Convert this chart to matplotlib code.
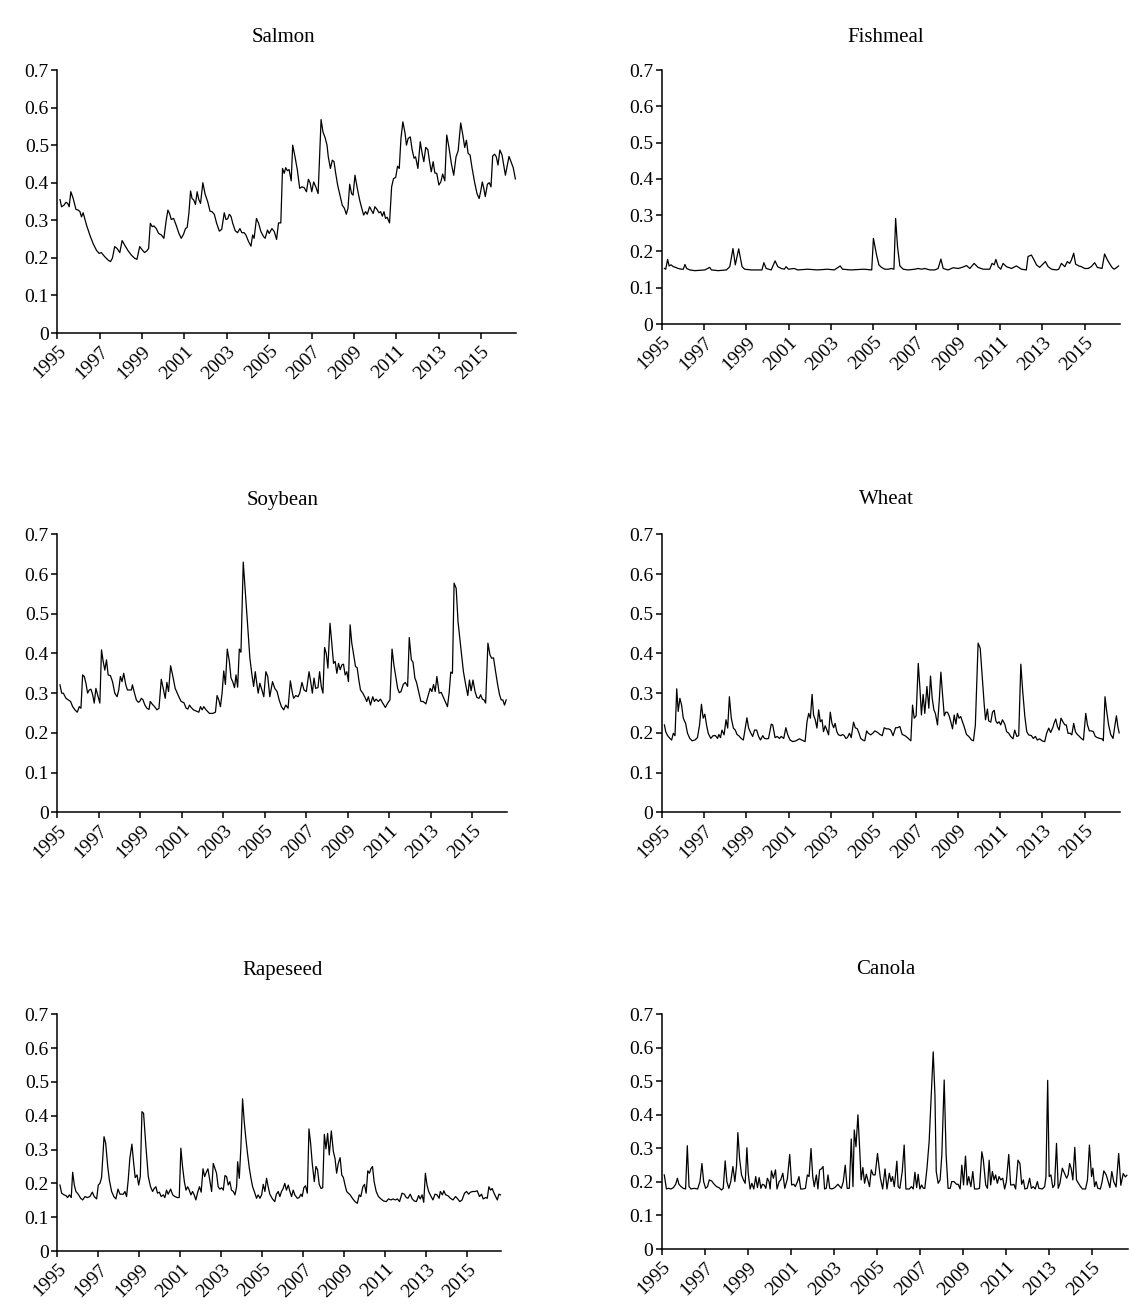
import matplotlib
matplotlib.use("Agg")
import matplotlib.pyplot as plt

plt.rcParams['font.family'] = ['Liberation Serif', 'DejaVu Serif']

# ---------------- data (decimal year, value) ----------------
salmon_year = [1995.13,1995.20,1995.31,1995.41,1995.49,1995.56,1995.64,1995.75,1995.88,1995.99,
 1996.07,1996.14,1996.22,1996.38,1996.54,1996.69,1996.85,1996.97,1997.08,1997.24,
 1997.40,1997.51,1997.60,1997.71,1997.82,1997.95,1998.06,1998.18,1998.34,1998.50,
 1998.65,1998.76,1998.89,1999.01,1999.12,1999.23,1999.31,1999.39,1999.48,1999.56,
 1999.67,1999.78,1999.91,2000.03,2000.14,2000.22,2000.30,2000.38,2000.49,2000.61,
 2000.74,2000.85,2000.96,2001.05,2001.13,2001.21,2001.29,2001.36,2001.44,2001.52,
 2001.60,2001.68,2001.76,2001.87,2001.97,2002.10,2002.21,2002.30,2002.41,2002.52,
 2002.65,2002.76,2002.88,2002.96,2003.04,2003.12,2003.20,2003.28,2003.40,2003.51,
 2003.62,2003.71,2003.82,2003.90,2004.03,2004.14,2004.22,2004.29,2004.40,2004.50,
 2004.61,2004.72,2004.81,2004.92,
 2005.00,2005.13,2005.24,2005.35,2005.44,2005.55,2005.63,2005.71,2005.78,2005.86,
 2005.94,2006.04,2006.11,2006.22,2006.33,2006.44,2006.54,2006.65,2006.76,2006.85,
 2006.93,2007.01,2007.10,2007.20,2007.31,2007.45,2007.54,2007.64,2007.73,2007.79,
 2007.89,2007.98,2008.06,2008.14,2008.23,2008.34,2008.45,2008.55,2008.64,2008.72,
 2008.80,2008.89,2008.96,2009.05,2009.16,2009.27,2009.36,2009.46,2009.55,2009.63,
 2009.74,2009.84,2009.91,2009.99,2010.09,2010.18,2010.26,2010.34,2010.42,2010.49,
 2010.57,2010.68,2010.78,2010.87,2010.97,2011.06,2011.14,2011.22,2011.31,2011.41,
 2011.48,2011.56,2011.66,2011.75,2011.84,2011.91,2012.02,2012.13,2012.22,2012.30,
 2012.39,2012.49,2012.57,2012.65,2012.74,2012.82,2012.91,2013.01,2013.10,2013.19,
 2013.29,2013.38,2013.48,2013.60,2013.71,2013.82,2013.92,2014.04,2014.14,2014.23,
 2014.31,2014.39,2014.48,2014.58,2014.70,2014.81,2014.91,2014.98,2015.06,2015.13,
 2015.20,2015.30,2015.39,2015.47,2015.55,2015.64,2015.72,2015.80,2015.89,2015.99,
 2016.08,2016.15,2016.22,2016.32,2016.42,2016.52,2016.62]
salmon_val = [0.355,0.336,0.34,0.348,0.345,0.336,0.376,0.358,0.329,0.327,
 0.323,0.309,0.32,0.287,0.26,0.238,0.22,0.212,0.214,0.203,
 0.194,0.19,0.199,0.23,0.225,0.214,0.246,0.234,0.219,0.207,
 0.199,0.196,0.23,0.221,0.214,0.219,0.225,0.292,0.283,0.285,
 0.278,0.265,0.261,0.252,0.30,0.327,0.318,0.302,0.305,0.287,
 0.265,0.252,0.263,0.278,0.281,0.318,0.378,0.358,0.354,0.342,
 0.376,0.355,0.345,0.40,0.371,0.349,0.324,0.323,0.316,0.292,
 0.271,0.276,0.32,0.302,0.304,0.316,0.31,0.292,0.272,0.267,
 0.278,0.267,0.267,0.261,0.243,0.231,0.261,0.252,0.305,0.292,
 0.27,0.258,0.252,0.274,
 0.265,0.278,0.27,0.249,0.293,0.293,0.438,0.425,0.44,0.432,
 0.435,0.405,0.50,0.469,0.434,0.385,0.389,0.387,0.376,0.409,
 0.40,0.376,0.402,0.389,0.371,0.568,0.535,0.52,0.50,0.469,
 0.438,0.46,0.456,0.425,0.394,0.367,0.34,0.332,0.316,0.332,
 0.396,0.371,0.367,0.42,0.385,0.354,0.334,0.314,0.323,0.316,
 0.336,0.325,0.318,0.336,0.329,0.32,0.323,0.311,0.323,0.305,
 0.308,0.293,0.389,0.411,0.414,0.444,0.438,0.518,0.562,0.533,
 0.50,0.518,0.522,0.487,0.465,0.469,0.438,0.509,0.478,0.456,
 0.494,0.488,0.456,0.429,0.456,0.426,0.425,0.394,0.402,0.423,
 0.405,0.527,0.496,0.451,0.42,0.469,0.485,0.559,0.527,0.494,
 0.513,0.478,0.474,0.438,0.40,0.371,0.358,0.376,0.402,0.385,
 0.363,0.396,0.40,0.389,0.471,0.476,0.469,0.447,0.487,0.474,
 0.444,0.42,0.44,0.47,0.455,0.44,0.41]

fishmeal_year = [1995.13,1995.19,1995.28,1995.35,1995.44,1995.55,1995.66,1995.78,1995.94,1996.02,
 1996.10,1996.18,1996.33,1996.57,1997.04,1997.27,1997.35,1997.67,1998.06,1998.22,
 1998.37,1998.48,1998.64,1998.80,1998.92,1999.24,1999.55,1999.74,1999.83,1999.94,
 2000.18,2000.36,2000.49,2000.65,2000.80,2000.88,2000.99,2001.27,2001.43,2001.90,
 2002.37,2002.84,2003.16,2003.44,2003.55,2003.94,2004.57,2004.93,2005.01,
 2005.16,2005.27,2005.39,2005.55,2005.71,2005.87,2005.98,2006.06,2006.15,2006.26,
 2006.42,2006.65,2006.97,2007.13,2007.28,2007.44,2007.68,2007.91,2008.07,2008.20,
 2008.31,2008.54,2008.78,2009.02,2009.20,2009.41,2009.57,2009.77,2009.96,2010.20,
 2010.51,2010.62,2010.72,2010.80,2010.91,2011.03,2011.14,2011.30,2011.54,2011.77,
 2012.01,2012.24,2012.32,2012.48,2012.61,2012.72,2012.87,2013.14,2013.27,2013.43,
 2013.66,2013.77,2013.90,2014.06,2014.18,2014.29,2014.37,2014.48,2014.57,2014.72,
 2014.84,2015.00,2015.16,2015.31,2015.47,2015.60,2015.82,2015.94,2016.06,2016.17,
 2016.29,2016.39,2016.50,2016.60]
fishmeal_val = [0.153,0.151,0.178,0.16,0.163,0.158,0.156,0.153,0.151,0.151,
 0.164,0.153,0.149,0.147,0.149,0.156,0.149,0.147,0.149,0.158,
 0.208,0.163,0.207,0.158,0.151,0.149,0.149,0.149,0.169,0.153,
 0.149,0.174,0.158,0.153,0.151,0.158,0.151,0.153,0.149,0.151,
 0.149,0.151,0.149,0.16,0.151,0.149,0.151,0.149,0.236,
 0.19,0.163,0.156,0.151,0.151,0.153,0.151,0.291,0.213,0.16,
 0.151,0.149,0.151,0.153,0.151,0.153,0.149,0.149,0.153,0.179,
 0.153,0.149,0.155,0.153,0.156,0.161,0.153,0.167,0.156,0.151,
 0.151,0.167,0.163,0.178,0.158,0.151,0.167,0.158,0.153,0.16,
 0.151,0.149,0.186,0.19,0.176,0.163,0.156,0.172,0.158,0.151,
 0.149,0.151,0.167,0.158,0.172,0.167,0.176,0.195,0.165,0.16,
 0.158,0.153,0.153,0.158,0.169,0.156,0.153,0.193,0.178,0.167,
 0.156,0.151,0.155,0.16]

soybean_year = [1995.13,1995.21,1995.29,1995.42,1995.53,1995.64,1995.74,1995.85,1995.96,1996.06,
 1996.14,1996.22,1996.30,1996.38,1996.46,1996.54,1996.62,1996.70,1996.78,1996.86,
 1996.94,1997.05,1997.13,1997.21,1997.29,1997.37,1997.45,1997.56,1997.66,1997.77,
 1997.88,1997.96,1998.04,1998.12,1998.20,1998.30,1998.38,1998.49,1998.57,1998.62,
 1998.70,1998.81,1998.90,1998.97,1999.05,1999.13,1999.22,1999.32,1999.42,1999.48,
 1999.58,1999.69,1999.80,1999.90,2000.01,2000.12,2000.20,2000.28,2000.36,2000.46,
 2000.57,2000.68,2000.78,2000.89,2000.97,2001.10,2001.21,2001.29,2001.37,2001.45,
 2001.56,2001.69,2001.82,2001.90,2001.98,2002.06,2002.17,2002.33,2002.49,2002.62,
 2002.70,2002.78,2002.86,2002.94,2003.02,2003.10,2003.19,2003.29,2003.37,2003.45,
 2003.54,2003.61,2003.69,2003.77,2003.85,2003.96,2004.06,2004.17,2004.28,2004.38,
 2004.46,2004.54,2004.60,2004.68,2004.76,2004.86,2004.95,2005.05,2005.14,
 2005.24,2005.37,2005.48,2005.59,2005.69,2005.80,2005.91,2006.01,2006.12,2006.23,
 2006.33,2006.39,2006.49,2006.60,2006.68,2006.79,2006.89,2007.00,2007.13,2007.21,
 2007.29,2007.37,2007.45,2007.56,2007.64,2007.72,2007.80,2007.88,2007.96,2008.04,
 2008.14,2008.22,2008.31,2008.39,2008.47,2008.55,2008.63,2008.71,2008.79,2008.87,
 2008.95,2009.03,2009.11,2009.19,2009.27,2009.37,2009.45,2009.53,2009.61,2009.72,
 2009.83,2009.91,2009.99,2010.09,2010.20,2010.28,2010.36,2010.47,2010.57,2010.68,
 2010.81,2010.92,2011.03,2011.13,2011.22,2011.32,2011.40,2011.48,2011.56,2011.67,
 2011.77,2011.88,2011.96,2012.06,2012.14,2012.23,2012.31,2012.41,2012.52,2012.63,
 2012.76,2012.87,2012.97,2013.05,2013.13,2013.21,2013.29,2013.40,2013.50,2013.59,
 2013.69,2013.80,2013.88,2013.96,2014.04,2014.12,2014.22,2014.31,2014.41,2014.49,
 2014.57,2014.68,2014.78,2014.86,2014.94,2015.03,2015.13,2015.22,2015.32,2015.40,
 2015.48,2015.56,2015.64,2015.75,2015.85,2015.93,2016.02,2016.12,2016.22,2016.31,
 2016.39,2016.47,2016.55,2016.63]
soybean_val = [0.321,0.30,0.30,0.287,0.283,0.279,0.266,0.258,0.252,0.266,
 0.262,0.346,0.342,0.325,0.30,0.308,0.31,0.297,0.275,0.312,
 0.296,0.275,0.409,0.38,0.358,0.384,0.346,0.344,0.329,0.30,
 0.291,0.308,0.342,0.329,0.35,0.321,0.308,0.308,0.308,0.321,
 0.304,0.283,0.277,0.279,0.287,0.283,0.27,0.262,0.259,0.279,
 0.272,0.266,0.258,0.262,0.335,0.308,0.287,0.327,0.304,0.369,
 0.342,0.312,0.30,0.287,0.279,0.276,0.262,0.26,0.27,0.264,
 0.258,0.255,0.252,0.266,0.258,0.266,0.258,0.249,0.249,0.252,
 0.294,0.283,0.266,0.30,0.356,0.322,0.411,0.38,0.338,0.329,
 0.314,0.346,0.315,0.411,0.403,0.63,0.556,0.472,0.388,0.346,
 0.317,0.354,0.329,0.30,0.325,0.308,0.291,0.354,0.342,
 0.291,0.329,0.312,0.304,0.283,0.266,0.258,0.27,0.262,0.331,
 0.30,0.287,0.294,0.291,0.30,0.327,0.308,0.304,0.354,0.329,
 0.30,0.338,0.312,0.314,0.354,0.317,0.30,0.415,0.40,0.363,
 0.476,0.43,0.375,0.38,0.35,0.375,0.359,0.371,0.373,0.346,
 0.354,0.329,0.472,0.426,0.40,0.367,0.364,0.333,0.308,0.30,
 0.289,0.279,0.291,0.27,0.291,0.279,0.285,0.279,0.285,0.275,
 0.264,0.275,0.283,0.411,0.371,0.338,0.312,0.301,0.304,0.322,
 0.327,0.317,0.44,0.384,0.378,0.338,0.327,0.304,0.279,0.279,
 0.273,0.294,0.312,0.304,0.322,0.304,0.342,0.30,0.302,0.291,
 0.279,0.266,0.30,0.353,0.35,0.577,0.564,0.48,0.43,0.392,
 0.354,0.321,0.294,0.333,0.306,0.333,0.304,0.289,0.287,0.296,
 0.285,0.283,0.275,0.426,0.396,0.388,0.389,0.354,0.321,0.296,
 0.283,0.283,0.27,0.283]

wheat_year = [1995.13,1995.19,1995.28,1995.39,1995.47,1995.55,1995.63,1995.71,1995.78,1995.86,
 1995.94,1996.02,1996.13,1996.22,1996.33,1996.44,1996.57,1996.69,1996.79,1996.88,
 1996.96,1997.04,1997.12,1997.20,1997.32,1997.43,1997.54,1997.64,1997.70,1997.78,
 1997.85,1997.95,1998.04,1998.12,1998.20,1998.29,1998.39,1998.48,1998.56,1998.64,
 1998.76,1998.86,1998.95,1999.03,1999.11,1999.20,1999.30,1999.39,1999.49,1999.58,
 1999.67,1999.78,1999.86,1999.96,2000.05,2000.18,2000.25,2000.36,2000.46,2000.57,
 2000.65,2000.77,2000.87,2000.96,2001.07,2001.20,2001.35,2001.51,2001.62,2001.78,
 2001.87,2001.95,2002.03,2002.11,2002.18,2002.26,2002.34,2002.42,2002.50,2002.58,
 2002.65,2002.73,2002.81,2002.89,2002.97,2003.05,2003.13,2003.20,2003.28,2003.36,
 2003.47,2003.55,2003.63,2003.71,2003.78,2003.88,2003.96,2004.07,2004.15,2004.25,
 2004.33,2004.41,2004.51,2004.60,2004.69,2004.77,2004.88,2004.98,
 2005.08,2005.21,2005.32,2005.43,2005.52,2005.63,2005.74,2005.83,2005.94,2006.06,
 2006.15,2006.26,2006.37,2006.50,2006.62,2006.78,2006.86,2006.94,2007.03,2007.13,
 2007.21,2007.28,2007.36,2007.44,2007.54,2007.63,2007.71,2007.79,2007.87,2007.94,
 2008.04,2008.12,2008.20,2008.28,2008.36,2008.43,2008.51,2008.59,2008.67,2008.75,
 2008.83,2008.91,2008.98,2009.06,2009.14,2009.22,2009.30,2009.41,2009.52,2009.65,
 2009.74,2009.83,2009.96,2010.06,2010.15,2010.25,2010.31,2010.40,2010.46,2010.56,
 2010.64,2010.72,2010.80,2010.87,2010.95,2011.03,2011.11,2011.22,2011.31,2011.41,
 2011.50,2011.61,2011.69,2011.79,2011.88,2011.98,2012.07,2012.17,2012.26,2012.35,
 2012.48,2012.57,2012.67,2012.76,2012.87,2012.98,2013.11,2013.20,2013.30,2013.39,
 2013.49,2013.55,2013.63,2013.71,2013.79,2013.88,2013.98,2014.06,2014.13,2014.21,
 2014.31,2014.39,2014.48,2014.56,2014.65,2014.75,2014.84,2014.94,2015.05,2015.13,
 2015.22,2015.32,2015.41,2015.50,2015.60,2015.71,2015.82,2015.88,2015.96,2016.04,
 2016.13,2016.23,2016.34,2016.42,2016.50,2016.57,2016.63]
wheat_val = [0.22,0.203,0.193,0.186,0.182,0.199,0.193,0.311,0.254,0.287,
 0.27,0.237,0.224,0.199,0.186,0.18,0.182,0.188,0.22,0.272,
 0.237,0.247,0.22,0.199,0.186,0.193,0.193,0.186,0.196,0.188,
 0.207,0.195,0.233,0.212,0.291,0.237,0.212,0.207,0.196,0.193,
 0.186,0.182,0.212,0.238,0.212,0.201,0.191,0.207,0.207,0.191,
 0.182,0.193,0.186,0.185,0.186,0.222,0.22,0.188,0.191,0.186,
 0.191,0.186,0.213,0.195,0.182,0.178,0.18,0.185,0.182,0.178,
 0.228,0.249,0.237,0.297,0.245,0.233,0.212,0.258,0.228,0.233,
 0.203,0.218,0.207,0.195,0.252,0.224,0.213,0.224,0.203,0.195,
 0.193,0.196,0.193,0.186,0.188,0.199,0.188,0.227,0.213,0.21,
 0.199,0.186,0.182,0.18,0.205,0.199,0.195,0.199,
 0.205,0.201,0.196,0.193,0.213,0.21,0.21,0.207,0.193,0.213,
 0.213,0.216,0.196,0.193,0.188,0.18,0.27,0.237,0.243,0.375,
 0.312,0.245,0.297,0.249,0.317,0.262,0.343,0.287,0.258,0.249,
 0.22,0.279,0.353,0.296,0.243,0.252,0.252,0.243,0.228,0.21,
 0.245,0.222,0.249,0.237,0.241,0.228,0.216,0.196,0.191,0.182,
 0.18,0.22,0.426,0.413,0.346,0.27,0.233,0.26,0.23,0.227,
 0.252,0.257,0.23,0.224,0.228,0.22,0.233,0.222,0.203,0.199,
 0.191,0.185,0.207,0.191,0.193,0.373,0.304,0.241,0.203,0.195,
 0.193,0.186,0.191,0.182,0.185,0.18,0.178,0.199,0.212,0.201,
 0.213,0.224,0.235,0.216,0.207,0.237,0.227,0.22,0.22,0.199,
 0.199,0.195,0.224,0.203,0.196,0.191,0.186,0.182,0.249,0.22,
 0.205,0.205,0.203,0.191,0.188,0.186,0.185,0.18,0.291,0.254,
 0.22,0.196,0.186,0.216,0.243,0.215,0.20]

rapeseed_year = [1995.13,1995.21,1995.33,1995.42,1995.50,1995.59,1995.68,1995.75,1995.83,1995.91,
 1996.02,1996.14,1996.24,1996.35,1996.46,1996.59,1996.71,1996.80,1996.92,1997.00,
 1997.08,1997.16,1997.28,1997.36,1997.46,1997.54,1997.65,1997.76,1997.86,1997.96,
 1998.06,1998.14,1998.22,1998.30,1998.38,1998.46,1998.54,1998.64,1998.72,1998.80,
 1998.89,1998.97,1999.05,1999.13,1999.21,1999.33,1999.44,1999.55,1999.65,1999.73,
 1999.81,1999.89,1999.98,2000.07,2000.17,2000.25,2000.33,2000.41,2000.53,2000.63,
 2000.74,2000.85,2000.95,2001.03,2001.11,2001.20,2001.28,2001.36,2001.44,2001.52,
 2001.60,2001.68,2001.76,2001.86,2001.94,2002.02,2002.11,2002.19,2002.27,2002.35,
 2002.45,2002.53,2002.61,2002.69,2002.77,2002.85,2002.93,2003.02,2003.10,2003.18,
 2003.26,2003.34,2003.42,2003.50,2003.59,2003.67,2003.75,2003.80,2003.88,2003.96,
 2004.04,2004.12,2004.20,2004.28,2004.37,2004.45,2004.53,2004.64,2004.72,2004.80,
 2004.89,2004.97,2005.05,2005.13,2005.21,2005.29,
 2005.37,2005.50,2005.61,2005.69,2005.78,2005.86,2005.94,2006.02,2006.10,2006.18,
 2006.27,2006.35,2006.43,2006.51,2006.59,2006.71,2006.80,2006.89,2006.95,2007.03,
 2007.11,2007.20,2007.28,2007.36,2007.44,2007.54,2007.62,2007.70,2007.78,2007.87,
 2007.95,2008.03,2008.11,2008.19,2008.27,2008.37,2008.47,2008.55,2008.63,2008.71,
 2008.80,2008.88,2008.96,2009.04,2009.12,2009.20,2009.29,2009.42,2009.53,2009.64,
 2009.73,2009.81,2009.91,2009.99,2010.07,2010.15,2010.23,2010.30,2010.38,2010.46,
 2010.56,2010.67,2010.79,2010.92,2011.05,2011.16,2011.28,2011.38,2011.49,2011.60,
 2011.70,2011.82,2011.93,2012.03,2012.11,2012.22,2012.32,2012.42,2012.52,2012.63,
 2012.71,2012.80,2012.88,2012.96,2013.04,2013.12,2013.24,2013.33,2013.43,2013.53,
 2013.63,2013.69,2013.79,2013.86,2013.95,2014.05,2014.18,2014.31,2014.43,2014.54,
 2014.64,2014.75,2014.87,2014.97,2015.07,2015.16,2015.28,2015.39,2015.49,2015.60,
 2015.70,2015.78,2015.90,2015.98,2016.06,2016.14,2016.22,2016.31,2016.39,2016.47,
 2016.55,2016.63]
rapeseed_val = [0.195,0.171,0.166,0.164,0.158,0.166,0.158,0.233,0.195,0.176,
 0.168,0.156,0.151,0.161,0.158,0.161,0.174,0.161,0.154,0.195,
 0.20,0.217,0.338,0.319,0.25,0.21,0.176,0.161,0.154,0.183,
 0.168,0.168,0.168,0.176,0.161,0.21,0.274,0.316,0.264,0.217,
 0.225,0.195,0.22,0.412,0.407,0.304,0.22,0.19,0.176,0.185,
 0.19,0.171,0.174,0.161,0.166,0.158,0.18,0.168,0.183,0.166,
 0.161,0.158,0.158,0.304,0.25,0.205,0.18,0.19,0.18,0.166,
 0.176,0.166,0.151,0.176,0.19,0.174,0.243,0.22,0.233,0.243,
 0.205,0.176,0.259,0.245,0.23,0.19,0.183,0.187,0.18,0.223,
 0.22,0.195,0.205,0.18,0.176,0.166,0.19,0.264,0.215,0.309,
 0.45,0.383,0.333,0.289,0.245,0.215,0.19,0.171,0.156,0.166,
 0.156,0.166,0.197,0.176,0.215,0.19,
 0.168,0.154,0.146,0.168,0.176,0.161,0.176,0.185,0.20,0.18,
 0.195,0.176,0.161,0.18,0.166,0.156,0.158,0.168,0.161,0.187,
 0.193,0.171,0.361,0.319,0.259,0.205,0.25,0.24,0.197,0.185,
 0.187,0.345,0.302,0.348,0.284,0.355,0.294,0.274,0.23,0.259,
 0.276,0.225,0.217,0.195,0.176,0.171,0.166,0.154,0.146,0.141,
 0.166,0.161,0.19,0.197,0.171,0.237,0.23,0.243,0.25,0.205,
 0.176,0.161,0.154,0.148,0.146,0.154,0.151,0.154,0.151,0.154,
 0.146,0.171,0.168,0.158,0.156,0.168,0.154,0.148,0.146,0.164,
 0.154,0.166,0.144,0.23,0.195,0.176,0.161,0.151,0.168,0.166,
 0.156,0.176,0.166,0.178,0.166,0.164,0.156,0.151,0.161,0.154,
 0.146,0.151,0.171,0.176,0.168,0.174,0.176,0.176,0.178,0.161,
 0.168,0.154,0.158,0.156,0.19,0.18,0.185,0.171,0.161,0.151,
 0.168,0.166]

canola_year = [1995.12,1995.22,1995.31,1995.43,1995.54,1995.65,1995.73,1995.80,1995.90,1996.00,
 1996.11,1996.19,1996.27,1996.36,1996.51,1996.67,1996.78,1996.87,1996.95,1997.04,
 1997.13,1997.21,1997.32,1997.44,1997.55,1997.66,1997.78,1997.86,1997.95,1998.03,
 1998.12,1998.21,1998.31,1998.40,1998.48,1998.54,1998.62,1998.71,1998.80,1998.88,
 1998.96,1999.02,1999.11,1999.19,1999.28,1999.37,1999.45,1999.53,1999.61,1999.68,
 1999.76,1999.84,1999.91,1999.99,2000.04,2000.10,2000.19,2000.29,2000.36,2000.46,
 2000.53,2000.63,2000.72,2000.84,2000.95,2001.04,2001.14,2001.21,2001.31,2001.38,
 2001.46,2001.57,2001.68,2001.77,2001.85,2001.94,2002.02,2002.09,2002.19,2002.26,
 2002.34,2002.42,2002.50,2002.57,2002.65,2002.73,2002.81,2002.91,2003.04,2003.19,
 2003.35,2003.44,2003.53,2003.62,2003.72,2003.81,2003.89,2003.95,2004.03,2004.12,
 2004.20,2004.27,2004.35,2004.43,2004.51,2004.58,2004.66,2004.74,2004.83,2004.92,
 2005.03,
 2005.16,2005.27,2005.38,2005.47,2005.58,2005.66,2005.73,2005.81,2005.86,2005.93,
 2005.99,2006.07,2006.18,2006.27,2006.35,2006.51,2006.61,2006.69,2006.77,2006.85,
 2006.92,2007.00,2007.08,2007.16,2007.23,2007.33,2007.43,2007.53,2007.62,2007.70,
 2007.76,2007.85,2007.94,2008.02,2008.13,2008.22,2008.31,2008.41,2008.48,2008.59,
 2008.70,2008.78,2008.87,2008.95,2009.03,2009.12,2009.20,2009.27,2009.37,2009.46,
 2009.54,2009.67,2009.77,2009.88,2009.95,2010.06,2010.14,2010.22,2010.29,2010.37,
 2010.45,2010.52,2010.60,2010.68,2010.76,2010.85,2010.94,2011.02,2011.13,2011.22,
 2011.30,2011.37,2011.45,2011.56,2011.65,2011.73,2011.81,2011.88,2011.99,2012.10,
 2012.18,2012.27,2012.36,2012.46,2012.53,2012.69,2012.80,2012.86,2012.94,2013.01,
 2013.09,2013.18,2013.26,2013.35,2013.43,2013.51,2013.62,2013.72,2013.82,2013.89,
 2013.96,2014.03,2014.11,2014.20,2014.28,2014.37,2014.47,2014.56,2014.70,2014.79,
 2014.88,2014.98,2015.04,2015.12,2015.19,2015.27,2015.39,2015.47,2015.55,2015.66,
 2015.73,2015.83,2015.92,2016.01,2016.12,2016.24,2016.34,2016.45,2016.55,2016.62]
canola_val = [0.221,0.179,0.181,0.179,0.183,0.193,0.211,0.193,0.186,0.181,
 0.179,0.308,0.186,0.179,0.181,0.179,0.201,0.255,0.201,0.181,
 0.186,0.206,0.203,0.193,0.186,0.183,0.176,0.181,0.263,0.201,
 0.181,0.201,0.246,0.201,0.25,0.347,0.27,0.221,0.206,0.196,
 0.302,0.226,0.179,0.196,0.179,0.216,0.183,0.213,0.181,0.193,
 0.191,0.181,0.211,0.201,0.179,0.233,0.211,0.236,0.179,0.201,
 0.206,0.226,0.181,0.209,0.282,0.191,0.193,0.186,0.201,0.216,
 0.179,0.179,0.181,0.221,0.216,0.30,0.216,0.186,0.221,0.179,
 0.236,0.239,0.246,0.179,0.181,0.221,0.181,0.179,0.183,0.193,
 0.181,0.201,0.25,0.181,0.181,0.328,0.186,0.355,0.305,0.40,
 0.30,0.206,0.243,0.196,0.223,0.206,0.186,0.236,0.221,0.221,
 0.285,
 0.213,0.179,0.239,0.179,0.226,0.201,0.216,0.186,0.216,0.262,
 0.186,0.181,0.231,0.31,0.179,0.179,0.186,0.179,0.229,0.183,
 0.223,0.179,0.191,0.181,0.181,0.241,0.32,0.459,0.588,0.459,
 0.231,0.196,0.206,0.28,0.504,0.28,0.181,0.181,0.201,0.201,
 0.193,0.193,0.179,0.25,0.191,0.277,0.191,0.216,0.186,0.231,
 0.179,0.179,0.181,0.29,0.265,0.191,0.181,0.265,0.191,0.231,
 0.206,0.221,0.196,0.216,0.206,0.211,0.179,0.201,0.282,0.191,
 0.191,0.193,0.179,0.265,0.255,0.193,0.206,0.179,0.181,0.211,
 0.181,0.186,0.179,0.201,0.181,0.179,0.186,0.216,0.503,0.216,
 0.221,0.183,0.191,0.315,0.181,0.196,0.241,0.226,0.211,0.221,
 0.255,0.241,0.206,0.303,0.206,0.196,0.186,0.179,0.179,0.206,
 0.31,0.216,0.241,0.186,0.201,0.181,0.179,0.201,0.233,0.221,
 0.206,0.183,0.231,0.201,0.185,0.285,0.19,0.225,0.215,0.22]

titles = ["Salmon", "Fishmeal", "Soybean", "Wheat", "Rapeseed", "Canola"]
series = [(salmon_year, salmon_val), (fishmeal_year, fishmeal_val),
          (soybean_year, soybean_val), (wheat_year, wheat_val),
          (rapeseed_year, rapeseed_val), (canola_year, canola_val)]
y_ticks = [0, 0.1, 0.2, 0.3, 0.4, 0.5, 0.6, 0.7]
y_tick_labels = ["0", "0.1", "0.2", "0.3", "0.4", "0.5", "0.6", "0.7"]
x_ticks = [1995, 1997, 1999, 2001, 2003, 2005, 2007, 2009, 2011, 2013, 2015]
x_tick_labels = [str(t) for t in x_ticks]

# ---------------- layout (pixels) ----------------
W, H = 1129, 1309
# left, right, top, bottom of each axes box
boxes = [(57.3, 516.0, 70.0, 333.0), (661.7, 1119.6, 70.0, 324.0),
         (57.3, 506.6, 534.3, 812.3), (661.7, 1119.6, 534.3, 812.3),
         (57.3, 501.0, 1014.3, 1251.0), (661.7, 1127.5, 1014.3, 1249.0)]
title_pos = [(283, 38), (886, 38), (283, 500), (886, 500), (283, 970), (886, 970)]

fig = plt.figure(figsize=(W / 100, H / 100), dpi=100)
fig.patch.set_facecolor('white')

for (l, r, t, b), name, (xs, ys), (tx, ty) in zip(boxes, titles, series, title_pos):
    ax = fig.add_axes([l / W, 1 - b / H, (r - l) / W, (b - t) / H])
    n = min(len(xs), len(ys))
    ax.plot(xs[:n], ys[:n], color='black', linewidth=0.9)
    ax.set_xlim(1995, 2016.65)
    ax.set_ylim(0, 0.7)
    ax.set_yticks(y_ticks)
    ax.set_yticklabels(y_tick_labels)
    ax.set_xticks(x_ticks)
    ax.set_xticklabels(x_tick_labels, rotation=45, ha='right', va='top',
                       rotation_mode='anchor')
    for s in ['top', 'right']:
        ax.spines[s].set_visible(False)
    for s in ['left', 'bottom']:
        ax.spines[s].set_linewidth(1.1)
        ax.spines[s].set_color('black')
    ax.tick_params(axis='both', direction='out', length=4, width=1.1,
                   labelsize=14, colors='black', pad=2)
    ax.tick_params(axis='x', pad=3)
    fig.text(tx / W, 1 - ty / H, name, ha='center', va='center', fontsize=15)

fig.savefig("out.png", dpi=100, facecolor='white')
